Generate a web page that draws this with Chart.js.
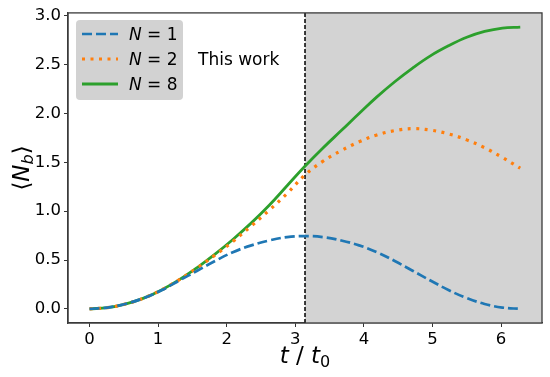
<!DOCTYPE html>
<html>
<head>
<meta charset="utf-8">
<script src="https://cdn.jsdelivr.net/npm/chart.js@4.4.1/dist/chart.umd.min.js"></script>
<style>
  html, body { margin: 0; padding: 0; background: #fff; }
  #wrap { width: 550px; height: 377px; }
</style>
</head>
<body>
<div id="wrap"><canvas id="myChart" width="550" height="377"></canvas></div>
<script>
const tValues = [0, 0.26, 0.52, 0.79, 1.05, 1.31, 1.57, 1.83, 2.09, 2.36, 2.62, 2.88, 3.14,
                 3.40, 3.67, 3.93, 4.19, 4.45, 4.71, 4.97, 5.24, 5.50, 5.76, 6.02, 6.28];
const n1 = [0, 0.013, 0.05, 0.11, 0.19, 0.29, 0.39, 0.49, 0.58, 0.65, 0.70, 0.735, 0.745,
            0.735, 0.70, 0.65, 0.58, 0.49, 0.39, 0.29, 0.19, 0.11, 0.05, 0.013, 0];
const n2 = [0, 0.012, 0.049, 0.11, 0.194, 0.299, 0.42, 0.55, 0.69, 0.85, 1.01, 1.18, 1.37,
            1.51, 1.62, 1.71, 1.78, 1.825, 1.845, 1.83, 1.79, 1.73, 1.65, 1.55, 1.44];
const n8 = [0, 0.012, 0.049, 0.11, 0.194, 0.299, 0.423, 0.56, 0.71, 0.88, 1.06, 1.26, 1.46,
            1.645, 1.825, 2.00, 2.17, 2.325, 2.465, 2.59, 2.695, 2.78, 2.84, 2.875, 2.885];
const seriesLabels = ['1', '2', '8'];
const xTicks = [0, 1, 2, 3, 4, 5, 6];
const yTicks = [0, 0.5, 1.0, 1.5, 2.0, 2.5, 3.0];
const shadeStart = 3.1416;   // t = pi
const noteText = 'This work';

const FONT = '"DejaVu Sans", Verdana, sans-serif';

function pts(arr) {
    return tValues.map((t, i) => ({ x: t, y: arr[i] }));
}

// draw a row of text pieces with different fonts, left-aligned at x
function drawRuns(ctx, runs, x, y) {
    let cx = x;
    runs.forEach(r => {
        ctx.font = r.font;
        ctx.fillText(r.text, cx, y + (r.dy || 0));
        cx += ctx.measureText(r.text).width;
    });
    return cx - x;
}
function runsWidth(ctx, runs) {
    let w = 0;
    runs.forEach(r => { ctx.font = r.font; w += ctx.measureText(r.text).width; });
    return w;
}

const decor = {
    id: 'decor',
    beforeDatasetsDraw(chart) {
        const { ctx, chartArea: a, scales: { x } } = chart;
        const px = x.getPixelForValue(shadeStart);
        ctx.save();
        ctx.fillStyle = '#d3d3d3';
        ctx.fillRect(px, a.top, a.right - px, a.bottom - a.top);
        ctx.strokeStyle = '#000';
        ctx.lineWidth = 1.5;
        ctx.setLineDash([4, 2]);
        ctx.beginPath();
        ctx.moveTo(px, a.top);
        ctx.lineTo(px, a.bottom);
        ctx.stroke();
        ctx.restore();
    },
    afterDatasetsDraw(chart) {
        const { ctx, chartArea: a } = chart;
        ctx.save();
        // frame
        ctx.strokeStyle = '#3a3a3a';
        ctx.lineWidth = 1.3;
        ctx.strokeRect(a.left, a.top, a.right - a.left, a.bottom - a.top);

        // legend box
        ctx.fillStyle = 'rgba(208,208,208,0.95)';
        ctx.beginPath();
        ctx.roundRect(76, 20, 107, 80, 4);
        ctx.fill();
        chart.data.datasets.forEach((ds, i) => {
            const yy = 34 + i * 25;
            ctx.strokeStyle = ds.borderColor;
            ctx.lineWidth = ds.borderWidth;
            ctx.setLineDash(ds.borderDash || []);
            ctx.beginPath();
            ctx.moveTo(82, yy);
            ctx.lineTo(118, yy);
            ctx.stroke();
            ctx.setLineDash([]);
            ctx.fillStyle = '#000';
            ctx.textBaseline = 'alphabetic';
            drawRuns(ctx, [
                { text: 'N', font: 'italic 17px ' + FONT },
                { text: ' = ' + seriesLabels[i], font: '17px ' + FONT }
            ], 129, yy + 6);
        });

        // note
        ctx.fillStyle = '#000';
        ctx.font = '17px ' + FONT;
        ctx.fillText(noteText, 198, 65);
        ctx.restore();
    },
    afterDraw(chart) {
        const { ctx, chartArea: a } = chart;
        ctx.save();
        ctx.fillStyle = '#000';
        ctx.textBaseline = 'alphabetic';
        // x title: t / t0
        const xr = [
            { text: 't', font: 'italic 23px ' + FONT },
            { text: ' / ', font: '23px ' + FONT },
            { text: 't', font: 'italic 23px ' + FONT },
            { text: '0', font: '16px ' + FONT, dy: 4 }
        ];
        const xc = (a.left + a.right) / 2;
        drawRuns(ctx, xr, xc - runsWidth(ctx, xr) / 2, 363);

        // y title: <N_b>
        const yr = [
            { text: '\u27E8', font: '23px ' + FONT },
            { text: 'N', font: 'italic 23px ' + FONT },
            { text: 'b', font: 'italic 16px ' + FONT, dy: 4 },
            { text: '\u27E9', font: '23px ' + FONT }
        ];
        ctx.translate(29, (a.top + a.bottom) / 2);
        ctx.rotate(-Math.PI / 2);
        drawRuns(ctx, yr, -runsWidth(ctx, yr) / 2, 0);
        ctx.restore();
    }
};

const ctx = document.getElementById('myChart').getContext('2d');
const myChart = new Chart(ctx, {
    type: 'line',
    data: {
        datasets: [{
            label: 'N = 1',
            data: pts(n1),
            borderColor: '#1f77b4',
            borderWidth: 2.7,
            borderDash: [10, 4]
        }, {
            label: 'N = 2',
            data: pts(n2),
            borderColor: '#ff7f0e',
            borderWidth: 3.2,
            borderDash: [3, 5.5]
        }, {
            label: 'N = 8',
            data: pts(n8),
            borderColor: '#2ca02c',
            borderWidth: 2.8
        }]
    },
    options: {
        responsive: false,
        animation: false,
        devicePixelRatio: 1,
        layout: { padding: { left: 0, right: 8, top: 12, bottom: 0 } },
        elements: {
            point: { radius: 0 },
            line: { tension: 0.4, borderCapStyle: 'butt' }
        },
        plugins: {
            legend: { display: false },
            tooltip: { enabled: false }
        },
        scales: {
            x: {
                type: 'linear',
                min: -0.314,
                max: 6.597,
                afterBuildTicks: s => { s.ticks = xTicks.map(v => ({ value: v })); },
                afterFit: s => { s.height = 54; },
                grid: { drawOnChartArea: false, drawTicks: true, tickLength: 4, color: '#333' },
                border: { display: true, color: '#3a3a3a', width: 1.3 },
                ticks: {
                    color: '#000',
                    font: { family: FONT, size: 16.5 },
                    padding: 3,
                    maxRotation: 0,
                    callback: v => String(v)
                }
            },
            y: {
                min: -0.145,
                max: 3.03,
                afterBuildTicks: s => { s.ticks = yTicks.map(v => ({ value: v })); },
                afterFit: s => { s.width = 68; },
                grid: { drawOnChartArea: false, drawTicks: true, tickLength: 4, color: '#333' },
                border: { display: true, color: '#3a3a3a', width: 1.3 },
                ticks: {
                    color: '#000',
                    font: { family: FONT, size: 16.5 },
                    padding: 3,
                    callback: v => v.toFixed(1)
                }
            }
        }
    },
    plugins: [decor]
});
</script>
</body>
</html>
